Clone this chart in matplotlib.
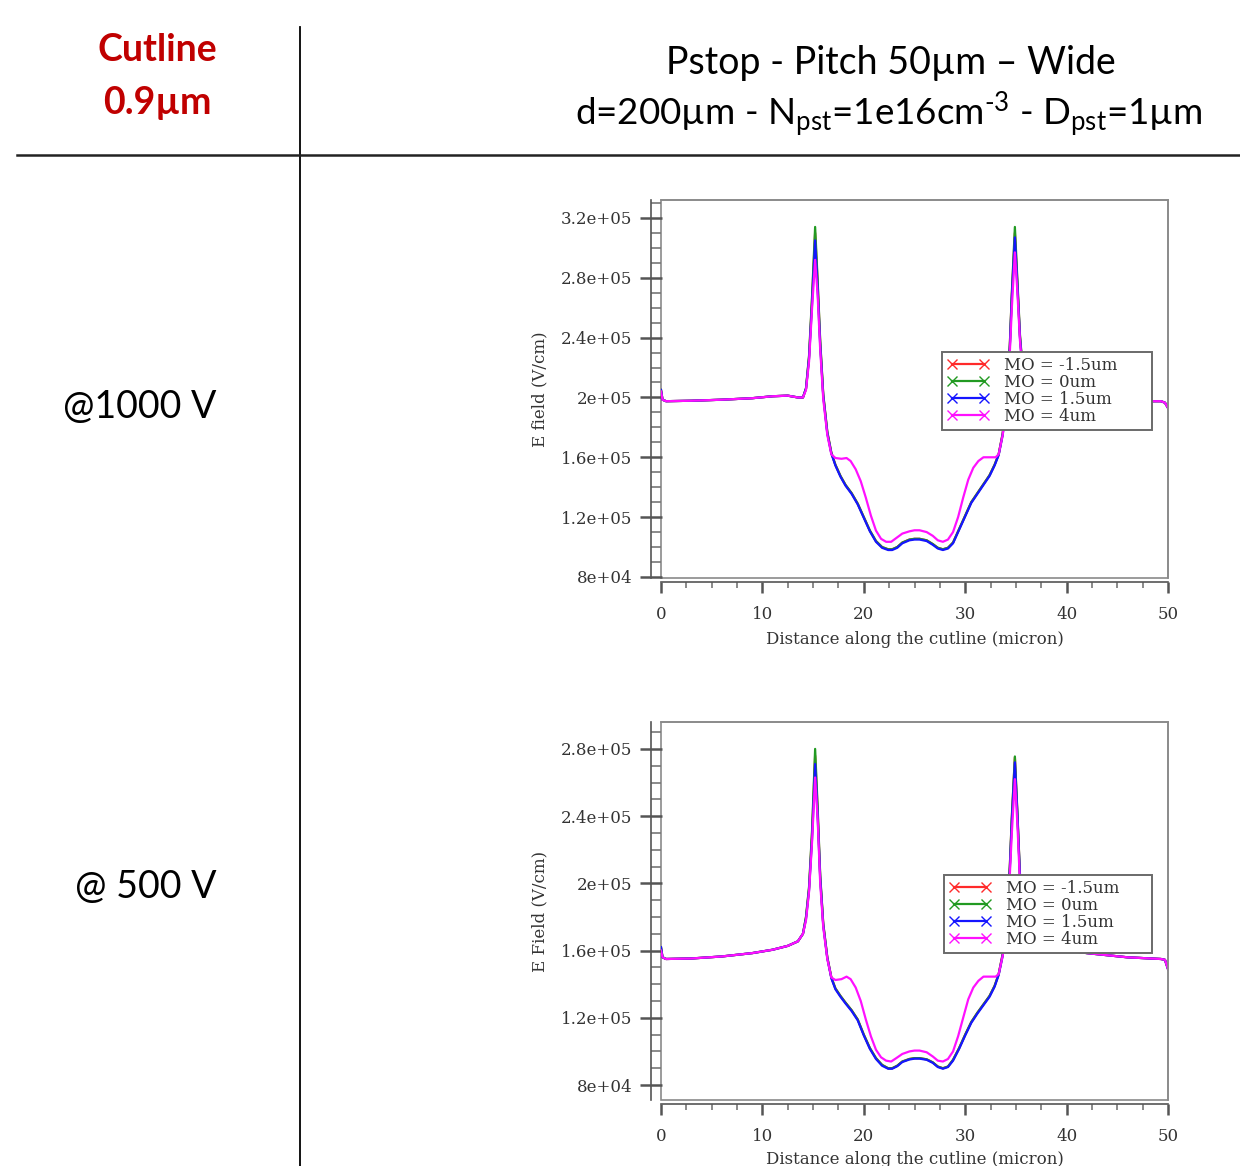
import matplotlib
matplotlib.use('Agg')
import matplotlib.pyplot as plt
from matplotlib.lines import Line2D
from matplotlib.patches import Rectangle
from matplotlib.ticker import MultipleLocator, FixedLocator, FixedFormatter

plt.rcParams['mathtext.fontset'] = 'custom'
plt.rcParams['mathtext.rm'] = 'Lato'
plt.rcParams['mathtext.it'] = 'Lato:italic'
plt.rcParams['mathtext.bf'] = 'Lato:bold'

# ---------------- data ----------------
series_labels = ['MO = -1.5um', 'MO = 0um', 'MO = 1.5um', 'MO = 4um']
series_colors = ['#ff2a2a', '#229a22', '#1515ff', '#ff10ff']

x_ticks = [0, 10, 20, 30, 40, 50]
y_ticks_1000 = [8e4, 1.2e5, 1.6e5, 2e5, 2.4e5, 2.8e5, 3.2e5]
y_ticklabels_1000 = ['8e+04', '1.2e+05', '1.6e+05', '2e+05', '2.4e+05', '2.8e+05', '3.2e+05']
y_ticks_500 = [8e4, 1.2e5, 1.6e5, 2e5, 2.4e5, 2.8e5]
y_ticklabels_500 = ['8e+04', '1.2e+05', '1.6e+05', '2e+05', '2.4e+05', '2.8e+05']

# distance (micron) for MO = -1.5, 0, 1.5 um
x_base = [0, 0.15, 0.5, 3, 6, 9, 11, 12.5, 13.5,
          14.0, 14.3, 14.6, 14.9, 15.2, 15.45, 15.7, 16.0, 16.4, 16.8,
          17.2, 17.7, 18.2, 18.8, 19.4, 20.0, 20.6, 21.2, 21.8, 22.4,
          22.8, 23.3, 23.8, 24.5, 25.0, 25.5, 26.2, 26.8, 27.3, 27.8,
          28.3, 28.8, 29.4, 30.0, 30.6, 31.2, 31.8, 32.4, 32.9, 33.3,
          33.7, 34.1, 34.4, 34.6, 34.9, 35.15, 35.4, 35.7, 36.1, 36.6,
          38, 42, 46, 49.3, 49.7, 50]

# distance (micron) for MO = 4 um
x_mo4 = [0, 0.15, 0.5, 3, 6, 9, 11, 12.5, 13.5,
         14.0, 14.3, 14.6, 14.9, 15.2, 15.45, 15.7, 16.0, 16.4, 16.8,
         17.2, 17.8, 18.3, 18.7, 19.2, 19.7, 20.2, 20.7, 21.2, 21.7,
         22.2, 22.7, 23.2, 23.8, 24.5, 25.0, 25.5, 26.2, 26.8, 27.3,
         27.8, 28.3, 28.8, 29.3, 29.8, 30.3, 30.8, 31.3, 31.8, 32.4,
         33.0, 33.3, 33.7, 34.1, 34.4, 34.6, 34.9, 35.15, 35.4, 35.7,
         36.1, 36.6, 38, 42, 46, 49.3, 49.7, 50]

# ---- @1000 V : E field (V/cm) ----
e1000_mo_m15 = [2.05e5, 1.985e5, 1.975e5, 1.978e5, 1.985e5, 1.995e5, 2.008e5, 2.012e5, 2.0e5,
                2.0e5, 2.06e5, 2.27e5, 2.66e5, 3.10e5, 2.76e5, 2.37e5, 2.02e5, 1.77e5, 1.63e5,
                1.55e5, 1.475e5, 1.415e5, 1.36e5, 1.29e5, 1.2e5, 1.11e5, 1.04e5, 1.0e5, 0.985e5,
                0.985e5, 1.0e5, 1.03e5, 1.05e5, 1.055e5, 1.055e5, 1.045e5, 1.02e5, 0.995e5, 0.985e5,
                0.995e5, 1.03e5, 1.12e5, 1.21e5, 1.3e5, 1.36e5, 1.42e5, 1.48e5, 1.55e5, 1.62e5,
                1.76e5, 2.0e5, 2.35e5, 2.69e5, 3.10e5, 2.76e5, 2.41e5, 2.16e5, 2.03e5, 1.99e5,
                1.978e5, 1.975e5, 1.975e5, 1.975e5, 1.965e5, 1.93e5]
e1000_mo_0 = [2.05e5, 1.985e5, 1.975e5, 1.978e5, 1.985e5, 1.995e5, 2.008e5, 2.012e5, 2.0e5,
              2.0e5, 2.06e5, 2.28e5, 2.68e5, 3.14e5, 2.78e5, 2.38e5, 2.02e5, 1.77e5, 1.63e5,
              1.55e5, 1.475e5, 1.415e5, 1.36e5, 1.29e5, 1.2e5, 1.11e5, 1.04e5, 1.0e5, 0.985e5,
              0.985e5, 1.0e5, 1.03e5, 1.05e5, 1.055e5, 1.055e5, 1.045e5, 1.02e5, 0.995e5, 0.985e5,
              0.995e5, 1.03e5, 1.12e5, 1.21e5, 1.3e5, 1.36e5, 1.42e5, 1.48e5, 1.55e5, 1.62e5,
              1.76e5, 2.0e5, 2.35e5, 2.7e5, 3.14e5, 2.78e5, 2.42e5, 2.16e5, 2.03e5, 1.99e5,
              1.978e5, 1.975e5, 1.975e5, 1.975e5, 1.965e5, 1.93e5]
e1000_mo_15 = [2.05e5, 1.985e5, 1.975e5, 1.978e5, 1.985e5, 1.995e5, 2.008e5, 2.012e5, 2.0e5,
               2.0e5, 2.06e5, 2.26e5, 2.63e5, 3.05e5, 2.72e5, 2.35e5, 2.01e5, 1.76e5, 1.625e5,
               1.545e5, 1.47e5, 1.41e5, 1.355e5, 1.285e5, 1.195e5, 1.105e5, 1.035e5, 0.995e5, 0.98e5,
               0.98e5, 0.995e5, 1.025e5, 1.045e5, 1.05e5, 1.05e5, 1.04e5, 1.015e5, 0.99e5, 0.98e5,
               0.99e5, 1.025e5, 1.115e5, 1.205e5, 1.295e5, 1.355e5, 1.415e5, 1.475e5, 1.545e5, 1.615e5,
               1.75e5, 1.99e5, 2.33e5, 2.67e5, 3.07e5, 2.74e5, 2.4e5, 2.15e5, 2.03e5, 1.99e5,
               1.978e5, 1.975e5, 1.975e5, 1.975e5, 1.965e5, 1.93e5]
e1000_mo_4 = [2.04e5, 1.985e5, 1.975e5, 1.978e5, 1.985e5, 1.995e5, 2.008e5, 2.012e5, 2.0e5,
              2.0e5, 2.05e5, 2.24e5, 2.6e5, 2.92e5, 2.68e5, 2.32e5, 1.99e5, 1.75e5, 1.62e5,
              1.595e5, 1.59e5, 1.595e5, 1.575e5, 1.52e5, 1.44e5, 1.33e5, 1.21e5, 1.11e5, 1.055e5,
              1.035e5, 1.035e5, 1.06e5, 1.09e5, 1.105e5, 1.112e5, 1.112e5, 1.1e5, 1.075e5, 1.045e5,
              1.035e5, 1.05e5, 1.1e5, 1.2e5, 1.33e5, 1.45e5, 1.53e5, 1.575e5, 1.6e5, 1.6e5,
              1.6e5, 1.62e5, 1.75e5, 1.98e5, 2.3e5, 2.6e5, 2.97e5, 2.7e5, 2.38e5, 2.14e5,
              2.02e5, 1.99e5, 1.978e5, 1.975e5, 1.975e5, 1.975e5, 1.965e5, 1.93e5]

# ---- @500 V : E field (V/cm) ----
e500_mo_m15 = [1.62e5, 1.56e5, 1.55e5, 1.553e5, 1.565e5, 1.585e5, 1.605e5, 1.628e5, 1.655e5,
               1.7e5, 1.8e5, 1.97e5, 2.3e5, 2.76e5, 2.43e5, 2.04e5, 1.76e5, 1.56e5, 1.44e5,
               1.375e5, 1.33e5, 1.29e5, 1.245e5, 1.19e5, 1.1e5, 1.02e5, 0.96e5, 0.92e5, 0.9e5,
               0.9e5, 0.915e5, 0.94e5, 0.955e5, 0.96e5, 0.96e5, 0.953e5, 0.935e5, 0.91e5, 0.9e5,
               0.91e5, 0.95e5, 1.02e5, 1.1e5, 1.175e5, 1.23e5, 1.28e5, 1.33e5, 1.39e5, 1.46e5,
               1.58e5, 1.8e5, 2.1e5, 2.39e5, 2.75e5, 2.41e5, 2.05e5, 1.8e5, 1.68e5, 1.64e5,
               1.62e5, 1.585e5, 1.56e5, 1.55e5, 1.545e5, 1.49e5]
e500_mo_0 = [1.62e5, 1.56e5, 1.55e5, 1.553e5, 1.565e5, 1.585e5, 1.605e5, 1.628e5, 1.655e5,
             1.7e5, 1.8e5, 1.98e5, 2.32e5, 2.8e5, 2.45e5, 2.05e5, 1.76e5, 1.56e5, 1.44e5,
             1.375e5, 1.33e5, 1.29e5, 1.245e5, 1.19e5, 1.1e5, 1.02e5, 0.96e5, 0.92e5, 0.9e5,
             0.9e5, 0.915e5, 0.94e5, 0.955e5, 0.96e5, 0.96e5, 0.953e5, 0.935e5, 0.91e5, 0.9e5,
             0.91e5, 0.95e5, 1.02e5, 1.1e5, 1.175e5, 1.23e5, 1.28e5, 1.33e5, 1.39e5, 1.46e5,
             1.58e5, 1.8e5, 2.1e5, 2.4e5, 2.755e5, 2.42e5, 2.05e5, 1.8e5, 1.68e5, 1.64e5,
             1.62e5, 1.585e5, 1.56e5, 1.55e5, 1.545e5, 1.49e5]
e500_mo_15 = [1.62e5, 1.56e5, 1.55e5, 1.553e5, 1.565e5, 1.585e5, 1.605e5, 1.628e5, 1.655e5,
              1.7e5, 1.79e5, 1.96e5, 2.27e5, 2.71e5, 2.4e5, 2.03e5, 1.75e5, 1.555e5, 1.435e5,
              1.37e5, 1.325e5, 1.285e5, 1.24e5, 1.185e5, 1.095e5, 1.015e5, 0.955e5, 0.915e5, 0.897e5,
              0.897e5, 0.912e5, 0.937e5, 0.952e5, 0.957e5, 0.957e5, 0.95e5, 0.932e5, 0.907e5, 0.897e5,
              0.907e5, 0.945e5, 1.015e5, 1.095e5, 1.17e5, 1.225e5, 1.275e5, 1.325e5, 1.385e5, 1.455e5,
              1.57e5, 1.79e5, 2.08e5, 2.37e5, 2.72e5, 2.4e5, 2.04e5, 1.8e5, 1.68e5, 1.64e5,
              1.62e5, 1.585e5, 1.56e5, 1.55e5, 1.545e5, 1.49e5]
e500_mo_4 = [1.6e5, 1.56e5, 1.55e5, 1.553e5, 1.565e5, 1.585e5, 1.605e5, 1.628e5, 1.655e5,
             1.7e5, 1.78e5, 1.95e5, 2.25e5, 2.63e5, 2.38e5, 2.0e5, 1.74e5, 1.55e5, 1.44e5,
             1.425e5, 1.43e5, 1.445e5, 1.43e5, 1.38e5, 1.3e5, 1.19e5, 1.09e5, 1.01e5, 0.965e5,
             0.945e5, 0.94e5, 0.96e5, 0.985e5, 1.0e5, 1.005e5, 1.005e5, 0.995e5, 0.97e5, 0.945e5,
             0.94e5, 0.955e5, 1.0e5, 1.09e5, 1.2e5, 1.31e5, 1.38e5, 1.42e5, 1.445e5, 1.445e5,
             1.445e5, 1.46e5, 1.57e5, 1.78e5, 2.05e5, 2.3e5, 2.62e5, 2.35e5, 2.0e5, 1.78e5,
             1.67e5, 1.64e5, 1.62e5, 1.585e5, 1.56e5, 1.55e5, 1.545e5, 1.49e5]

# ---------------- figure ----------------
W, H = 1240, 1166
fig = plt.figure(figsize=(W / 100, H / 100), dpi=100)
fig.patch.set_facecolor('white')

def fx(px):
    return px / W

def fy(py):
    return 1 - py / H

# table lines
fig.add_artist(Line2D([fx(300), fx(300)], [fy(27), 0], color='black', lw=1.3))
fig.add_artist(Line2D([fx(17), 1], [fy(155), fy(155)], color='#222222', lw=1.8))

# header texts
hdr_font = 'Lato'
fig.text(fx(157), fy(50), 'Cutline', color='#c00000', fontsize=27, fontweight='bold',
         family=hdr_font, ha='center', va='center')
fig.text(fx(157), fy(103), '0.9µm', color='#c00000', fontsize=27, fontweight='bold',
         family=hdr_font, ha='center', va='center')
fig.text(fx(891), fy(63), 'Pstop - Pitch 50µm – Wide', color='black', fontsize=27,
         family=hdr_font, ha='center', va='center')
fig.text(fx(889), fy(115),
         r'd=200µm - N$_{\mathrm{pst}}$=1e16cm$^{\mathrm{\text{-}3}}$ - D$_{\mathrm{pst}}$=1µm',
         color='black', fontsize=26.5, family=hdr_font, ha='center', va='center')
fig.text(fx(140), fy(407), '@1000 V', color='black', fontsize=27, family=hdr_font,
         ha='center', va='center')
fig.text(fx(146), fy(887), '@ 500 V', color='black', fontsize=27, family=hdr_font,
         ha='center', va='center')

serif = 'DejaVu Serif'
txt_col = '#333333'


def panel(rect, series, yticks, ylabels, ylim, ylabel, leg_box):
    ax = fig.add_axes(rect)
    for (xs, ys), col in zip(series, series_colors):
        ax.plot(xs, ys, color=col, lw=1.6, solid_joinstyle='round')
    ax.set_xlim(0, 50)
    ax.set_ylim(*ylim)
    # frame
    for s in ['top', 'right']:
        ax.spines[s].set_color('#8a8a8a')
        ax.spines[s].set_linewidth(1.2)
    ax.spines['left'].set_position(('outward', 7.5))
    ax.spines['bottom'].set_position(('outward', 3))
    ax.spines['left'].set_color('#555555')
    ax.spines['bottom'].set_color('#555555')
    ax.spines['left'].set_linewidth(1.2)
    ax.spines['bottom'].set_linewidth(1.2)
    ax.add_patch(Rectangle((0, 0), 1, 1, transform=ax.transAxes, fill=False,
                           ec='#8a8a8a', lw=1.2, clip_on=False))
    ax.xaxis.set_major_locator(FixedLocator(x_ticks))
    ax.xaxis.set_minor_locator(MultipleLocator(2.5))
    ax.yaxis.set_major_locator(FixedLocator(yticks))
    ax.yaxis.set_major_formatter(FixedFormatter(ylabels))
    ax.yaxis.set_minor_locator(MultipleLocator(1e4))
    ax.tick_params(axis='y', which='major', direction='inout', length=16, width=1.8,
                   color='#555555', labelsize=12, labelcolor=txt_col, pad=5)
    ax.tick_params(axis='y', which='minor', direction='in', length=7, width=1.2,
                   color='#777777')
    ax.tick_params(axis='x', which='major', direction='out', length=8, width=1.8,
                   color='#555555', labelsize=12, labelcolor=txt_col, pad=9)
    ax.tick_params(axis='x', which='minor', direction='out', length=4, width=1.2,
                   color='#777777')
    for lab in ax.get_xticklabels() + ax.get_yticklabels():
        lab.set_family(serif)
    ax.set_xlabel('Distance along the cutline (micron)', family=serif, fontsize=12,
                  color=txt_col)
    ax.set_ylabel(ylabel, family=serif, fontsize=12, color=txt_col)
    ax.yaxis.set_label_coords(-0.222, 0.5)
    handles = [Line2D([], [], color=c, lw=1.6, marker='x', ms=6.5, mew=1.0)
               for c in series_colors]
    leg = ax.legend(handles, series_labels, loc='upper left', bbox_to_anchor=leg_box,
                    mode='expand', numpoints=2, frameon=True, fancybox=False,
                    framealpha=1, edgecolor='#6a6a6a', prop={'family': serif, 'size': 12},
                    labelspacing=0.0, handlelength=2.5, handletextpad=0.9,
                    borderpad=0.3, borderaxespad=0)
    leg.get_frame().set_linewidth(1.4)
    for t in leg.get_texts():
        t.set_color(txt_col)
    return ax


ax1 = panel([fx(661), fy(578), fx(1168) - fx(661), (578 - 200) / H],
            [(x_base, e1000_mo_m15), (x_base, e1000_mo_0), (x_base, e1000_mo_15),
             (x_mo4, e1000_mo_4)],
            y_ticks_1000, y_ticklabels_1000, (7.93e4, 3.32e5), 'E field (V/cm)',
            (0.554, 0.398, 0.414, 0.2))
ax1.xaxis.set_label_coords(0.5, -0.14)

ax2 = panel([fx(661), fy(1100), fx(1168) - fx(661), (1100 - 722) / H],
            [(x_base, e500_mo_m15), (x_base, e500_mo_0), (x_base, e500_mo_15),
             (x_mo4, e500_mo_4)],
            y_ticks_500, y_ticklabels_500, (7.11e4, 2.96e5), 'E Field (V/cm)',
            (0.558, 0.395, 0.41, 0.2))
ax2.xaxis.set_label_coords(0.5, -0.135)

fig.savefig('out.png', dpi=100, facecolor='white')
